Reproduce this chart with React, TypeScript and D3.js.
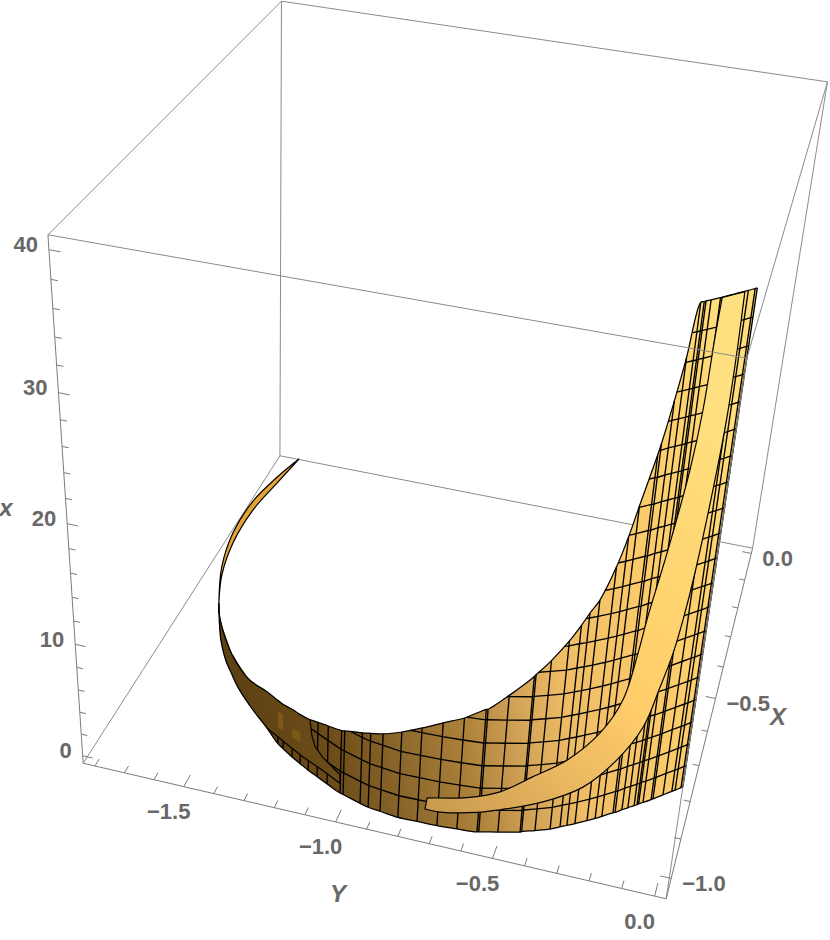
import { useMemo } from 'react'
import * as d3 from 'd3'

// wall of the surface: floor curve (Y, X) and the height x it is cut at
const wallY = [-1.715, -1.694, -1.635, -1.530, -1.426, -1.334, -1.276, -1.252, -1.212, -1.178, -1.144, -1.108, -1.068, -1.017,
  -1.006, -0.944, -0.915, -0.875, -0.815, -0.754, -0.691, -0.629, -0.567, -0.562, -0.506, -0.441, -0.437,
  -0.399, -0.356, -0.329, -0.310, -0.288, -0.255, -0.233, -0.215, -0.185, -0.179, -0.161, -0.145, -0.128,
  -0.120, -0.116, -0.104, -0.082, -0.077, -0.050, -0.026, -0.017, -0.001, 0.004]
const wallX = [-0.551, -0.582, -0.660, -0.755, -0.824, -0.874, -0.908, -0.918, -0.934, -0.946, -0.958, -0.969, -0.981, -0.996,
  -0.998, -1.010, -1.015, -1.018, -1.023, -1.022, -1.021, -1.018, -1.014, -1.013, -1.003, -0.991, -0.989,
  -0.979, -0.967, -0.956, -0.949, -0.940, -0.926, -0.916, -0.907, -0.892, -0.890, -0.879, -0.871, -0.862,
  -0.858, -0.855, -0.849, -0.837, -0.834, -0.818, -0.804, -0.799, -0.789, -0.786]
const wallTop = [0, 0.8, 1.8, 2.0, 2.4, 3.4, 4.0, 4.1, 4.4, 4.5, 4.7, 5.0, 5.3, 5.7,
  5.8, 6.4, 6.7, 7.0, 7.7, 8.4, 9.2, 9.9, 10.9, 10.9, 12.1, 13.7, 13.8,
  14.9, 16.4, 17.5, 18.4, 19.3, 21.7, 23.9, 26.1, 29.7, 30.5, 33.4, 36.3, 40,
  40, 40, 40, 40, 40, 40, 40, 40, 40, 40]

// the far side of the rim, the thin sliver at the back
const backY = [-1.715, -1.763, -1.794, -1.797, -1.772, -1.747]
const backX = [-0.551, -0.462, -0.350, -0.224, -0.110, -0.004]
const backTop = [0, 0.8, 1.0, 0.9, 0.6, 0]

// the light band, two edges
const bandUpperY = [-0.726, -0.605, -0.509, -0.419, -0.329, -0.247, -0.196, -0.171, -0.159, -0.128, -0.099, -0.087, -0.082, -0.078]
const bandUpperX = [-1.023, -1.017, -1.004, -0.985, -0.957, -0.923, -0.898, -0.886, -0.879, -0.862, -0.847, -0.840, -0.838, -0.835]
const bandUpperZ = [2.4, 3.0, 3.7, 5.0, 6.1, 7.9, 10.3, 14.1, 16.7, 22.0, 27.9, 32.2, 37.4, 40]
const bandLowerY = [-0.731, -0.684, -0.571, -0.505, -0.384, -0.277, -0.192, -0.132, -0.100, -0.077, -0.063, -0.049, -0.030, -0.024, -0.023, -0.025]
const bandLowerX = [-1.022, -1.021, -1.015, -1.004, -0.975, -0.936, -0.897, -0.864, -0.848, -0.836, -0.826, -0.818, -0.807, -0.804, -0.803, -0.805]
const bandLowerZ = [1.3, 1.3, 1.8, 2.1, 2.6, 3.3, 5.0, 7.2, 10.4, 13.1, 15.7, 19.4, 27.3, 31.2, 36.0, 40]

// dark part on the left with no mesh
const flapY = [-1.139, -1.130, -1.117, -1.086, -1.019, -1.018, -1.088, -1.165, -1.243, -1.334]
const flapX = [-0.961, -0.964, -0.968, -0.977, -0.996, -0.996, -0.976, -0.952, -0.921, -0.874]
const flapZ = [4.8, 3.5, 2.7, 2.2, 1.7, 0.9, 1.0, 0.9, 0.7, 0]

const meshLevels = d3.range(2, 40, 2)
const glints = [[6, 7, 1.5, 3.2], [8, 9, 1.8, 2.9]]

const yMajor = [-1.5, -1.0, -0.5, 0.0]
const xMajor = [-1.0, -0.5, 0.0]
const zMajor = [0, 10, 20, 30, 40]
const yTicks = d3.range(-18, 1).map(d => d / 10)
const xTicks = d3.range(-10, 1).map(d => d / 10)
const zTicks = d3.range(0, 41, 2)

const wallShade = [[0, '#5c4012'], [0.17, '#6b4b18'], [0.3, '#8c672c'], [0.42, '#ab8038'], [0.53, '#d3a458'], [0.62, '#efbd66'], [0.78, '#fbca6a'], [0.9, '#fed26f'], [1, '#ffdd7a']]
const bandShade = [[0, '#c99b4e'], [0.2, '#e8b660'], [0.42, '#ffcd69'], [0.65, '#ffd56f'], [1, '#ffe081']]

// box corners on screen, the camera is fitted to them
const boxCorners = [
  [0, 0, 0, 83, 763], [1, 0, 0, 667, 899], [0, 1, 0, 280, 456], [1, 1, 0, 752, 548],
  [0, 0, 1, 48, 235], [1, 0, 1, 746, 358], [0, 1, 1, 281.5, 1], [1, 1, 1, 828, 82],
]
const backEdges = [[[0, 1, 0], [1, 1, 0]], [[0, 0, 0], [0, 1, 0]], [[0, 1, 0], [0, 1, 1]], [[1, 1, 0], [1, 1, 1]], [[0, 1, 1], [1, 1, 1]], [[0, 0, 1], [0, 1, 1]]]
const frontEdges = [[[0, 0, 1], [1, 0, 1]], [[1, 0, 0], [1, 0, 1]], [[1, 0, 1], [1, 1, 1]]]
const axisEdges = [[[0, 0, 0], [1, 0, 0]], [[1, 0, 0], [1, 1, 0]], [[0, 0, 0], [0, 0, 1]]]

function solve(A: number[][], b: number[]) {
  const n = b.length
  const M = A.map((r, i) => [...r, b[i]])
  for (let i = 0; i < n; i++) {
    let p = i
    for (let k = i; k < n; k++) if (Math.abs(M[k][i]) > Math.abs(M[p][i])) p = k
    ;[M[i], M[p]] = [M[p], M[i]]
    for (let k = 0; k < n; k++) {
      if (k === i) continue
      const f = M[k][i] / M[i][i]
      for (let j = i; j <= n; j++) M[k][j] -= f * M[i][j]
    }
  }
  return M.map((r, i) => r[n] / r[i])
}

function fitCamera() {
  const R: number[][] = []
  const B: number[] = []
  for (const [u, v, w, x, y] of boxCorners) {
    R.push([u, v, w, 1, 0, 0, 0, 0, -x * u, -x * v, -x * w]); B.push(x)
    R.push([0, 0, 0, 0, u, v, w, 1, -y * u, -y * v, -y * w]); B.push(y)
  }
  const idx = d3.range(11)
  return solve(idx.map(i => idx.map(j => d3.sum(R, r => r[i] * r[j]))), idx.map(i => d3.sum(R, (r, k) => r[i] * B[k])))
}

const c = fitCamera()
const cube = (u: number, v: number, w: number): [number, number] => {
  const d = c[8] * u + c[9] * v + c[10] * w + 1
  return [(c[0] * u + c[1] * v + c[2] * w + c[3]) / d, (c[4] * u + c[5] * v + c[6] * w + c[7]) / d]
}
const yScale = d3.scaleLinear().domain([-1.84, 0.035]).range([0, 1])
const xScale = d3.scaleLinear().domain([-1.05, 0.02]).range([0, 1])
const zScale = d3.scaleLinear().domain([-0.7, 41]).range([0, 1])
const project = (Y: number, X: number, z: number) => cube(yScale(Y), xScale(X), zScale(z))

const smooth = d3.line().curve(d3.curveMonotoneX)
const bendy = d3.line().curve(d3.curveCatmullRom.alpha(0.5))
const straight = d3.line()

const gray = '#8b8b8b'
const labelStyle = { fontFamily: '"Liberation Sans", Arial, sans-serif', fontWeight: 700, fontSize: 22, fill: '#686868' }
const titleStyle = { ...labelStyle, fontStyle: 'italic', fontSize: 24 }
const fmt = (v: number) => v.toFixed(1).replace('-', '\u2212')

function levelRuns(level: number) {
  const runs: [number, number][][] = []
  let cur: [number, number][] = []
  wallY.forEach((Y, i) => {
    const top = wallTop[i]
    if (i > 0) {
      const prev = wallTop[i - 1]
      if ((prev < level) !== (top < level)) {
        const t = (level - prev) / (top - prev)
        cur.push(project(wallY[i - 1] + (Y - wallY[i - 1]) * t, wallX[i - 1] + (wallX[i] - wallX[i - 1]) * t, level))
        if (top < level) { runs.push(cur); cur = [] }
      }
    }
    if (top >= level) cur.push(project(Y, wallX[i], level))
  })
  if (cur.length) runs.push(cur)
  return runs
}

function Edge({ e, color = gray, width = 1 }: any) {
  const [a, b] = [cube(e[0][0], e[0][1], e[0][2]), cube(e[1][0], e[1][1], e[1][2])]
  return <line x1={a[0]} y1={a[1]} x2={b[0]} y2={b[1]} stroke={color} strokeWidth={width} />
}

export default function App() {
  const s = useMemo(() => {
    const lower = wallY.map((Y, i) => project(Y, wallX[i], 0))
    const upper = wallY.map((Y, i) => project(Y, wallX[i], wallTop[i]))
    const wall = smooth(lower) + 'L' + bendy([...upper].reverse())!.slice(1) + 'Z'

    const backLow = backY.map((Y, i) => project(Y, backX[i], 0))
    const backUp = backY.map((Y, i) => project(Y, backX[i], backTop[i]))
    const back = bendy(backLow) + 'L' + bendy([...backUp].reverse())!.slice(1) + 'Z'

    const bandU = bandUpperY.map((Y, i) => project(Y, bandUpperX[i], bandUpperZ[i]))
    const bandL = bandLowerY.map((Y, i) => project(Y, bandLowerX[i], bandLowerZ[i]))
    const band = bendy(bandU) + 'L' + bendy([...bandL].reverse())!.slice(1) + 'Z'

    const flapEdge = flapY.map((Y, i) => project(Y, flapX[i], flapZ[i]))
    const flapFill = [
      ...upper.filter((_, i) => wallY[i] < -1.139),
      ...flapEdge,
      ...lower.filter((_, i) => wallY[i] < -1.34).reverse(),
    ]
    return {
      lower, upper, wall, back, band, flapEdge, flapFill,
      rails: wallY.map((Y, i) => [project(Y, wallX[i], 0), project(Y, wallX[i], wallTop[i])]),
      levels: meshLevels.flatMap(levelRuns),
      glintPolys: glints.map(([a, b, z0, z1]) => [
        project(wallY[a], wallX[a], z0), project(wallY[b], wallX[b], z0 + 0.2),
        project(wallY[b], wallX[b], z1), project(wallY[a], wallX[a], z1 - 0.2),
      ]),
    }
  }, [])

  const stops = (rows: any[]) => rows.map(([o, col]) => <stop key={o} offset={o} stopColor={col} />)

  return (
    <svg width={830} height={940} style={{ position: 'absolute', left: 0, top: 0, display: 'block' }}>
      <defs>
        <linearGradient id="wallFill" gradientUnits="userSpaceOnUse" x1={218} y1={640} x2={755} y2={560}>{stops(wallShade)}</linearGradient>
        <linearGradient id="bandFill" gradientUnits="userSpaceOnUse" x1={425} y1={800} x2={745} y2={420}>{stops(bandShade)}</linearGradient>
      </defs>

      {backEdges.map((e, i) => <Edge key={i} e={e} />)}

      <path d={s.back} fill="#e3a435" stroke="#000" strokeWidth={1.2} strokeLinejoin="round" />
      <path d={s.wall} fill="url(#wallFill)" />

      <g fill="none" stroke="#000" strokeWidth={1.35}>
        {s.rails.map((r, i) => <path key={i} d={straight(r)!} />)}
        {s.levels.map((r, i) => <path key={i} d={straight(r)!} />)}
      </g>

      <path d={straight(s.flapFill) + 'Z'} fill="url(#wallFill)" />
      <path d={straight(s.flapEdge)!} fill="none" stroke="#000" strokeWidth={1.2} />
      {s.glintPolys.map((g, i) => <path key={i} d={straight(g) + 'Z'} fill="#7d5718" />)}

      <path d={s.band} fill="url(#bandFill)" stroke="#000" strokeWidth={1.2} strokeLinejoin="round" />

      <g fill="none" stroke="#000" strokeWidth={1.25} strokeLinejoin="round">
        <path d={smooth(s.lower)!} />
        <path d={bendy(s.upper)!} />
      </g>

      {frontEdges.map((e, i) => <Edge key={i} e={e} />)}
      {axisEdges.map((e, i) => <Edge key={i} e={e} color="#7c7c7c" />)}

      <g stroke="#7c7c7c" strokeWidth={1}>
        {yTicks.map(t => {
          const major = yMajor.some(m => Math.abs(m - t) < 1e-6)
          const a = cube(yScale(t), 0, 0), b = cube(yScale(t), major ? 0.03 : 0.018, 0)
          return <line key={t} x1={a[0]} y1={a[1]} x2={b[0]} y2={b[1]} />
        })}
        {xTicks.map(t => {
          const major = xMajor.some(m => Math.abs(m - t) < 1e-6)
          const a = cube(1, xScale(t), 0), b = cube(major ? 0.982 : 0.989, xScale(t), 0)
          return <line key={t} x1={a[0]} y1={a[1]} x2={b[0]} y2={b[1]} />
        })}
        {zTicks.map(t => {
          const major = zMajor.includes(t)
          const a = cube(0, 0, zScale(t)), b = cube(major ? 0.018 : 0.011, 0, zScale(t))
          return <line key={t} x1={a[0]} y1={a[1]} x2={b[0]} y2={b[1]} />
        })}
      </g>

      {yMajor.map(t => {
        const p = cube(yScale(t), 0, 0)
        return <text key={t} x={p[0] - 15} y={p[1] + 25} textAnchor="middle" dominantBaseline="central" style={labelStyle}>{fmt(t)}</text>
      })}
      {xMajor.map(t => {
        const p = cube(1, xScale(t), 0)
        return <text key={t} x={p[0] + 11} y={p[1] + 5} textAnchor="start" dominantBaseline="central" style={labelStyle}>{fmt(t)}</text>
      })}
      {zMajor.map(t => {
        const p = cube(0, 0, zScale(t))
        return <text key={t} x={p[0] - 11} y={p[1] - 5} textAnchor="end" dominantBaseline="central" style={labelStyle}>{t}</text>
      })}
      <text x={6} y={507} textAnchor="middle" dominantBaseline="central" style={titleStyle}>x</text>
      <text x={338} y={893} textAnchor="middle" dominantBaseline="central" style={titleStyle}>Y</text>
      <text x={778} y={716} textAnchor="middle" dominantBaseline="central" style={titleStyle}>X</text>
    </svg>
  )
}
